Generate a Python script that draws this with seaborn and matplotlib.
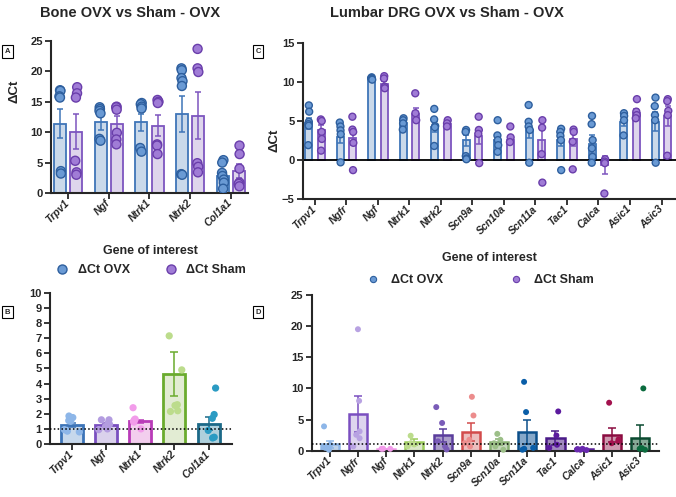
import numpy as np
import pandas as pd
import matplotlib.pyplot as plt
import seaborn as sns
from matplotlib.lines import Line2D

# ---- values ----
bone_genes = ["Trpv1", "Ngf", "Ntrk1", "Ntrk2", "Col1a1"]
groups = ["OVX", "Sham"]

bone_ovx_mean = [11.4, 11.7, 11.6, 13.0, 2.8]
bone_ovx_sem = [2.4, 1.4, 1.4, 3.0, 0.7]
bone_sham_mean = [10.1, 11.3, 11.1, 12.7, 3.6]
bone_sham_sem = [2.9, 1.3, 1.8, 3.9, 1.2]
bone_ovx_pts = [[16.9, 16.8, 15.9, 15.7, 3.6, 3.2],
                [14.1, 13.8, 13.5, 13.1, 8.9, 8.6],
                [14.8, 14.6, 14.2, 13.9, 7.4, 6.8],
                [20.5, 20.2, 18.9, 18.4, 17.6, 3.1, 3.0],
                [5.4, 5.0, 3.3, 2.8, 2.2, 1.7, 0.7]]
bone_sham_pts = [[17.4, 16.4, 15.7, 5.3, 3.4, 3.0],
                 [14.2, 14.1, 13.7, 9.9, 8.8, 8.0],
                 [15.3, 15.0, 14.8, 8.0, 7.8, 6.4],
                 [23.7, 20.5, 19.9, 4.9, 4.3, 3.4],
                 [7.8, 6.4, 4.0, 1.7, 1.5, 1.1]]

bone_fc_mean = [1.27, 1.25, 1.5, 4.62, 1.34]
bone_fc_sem = [0.15, 0.12, 0.12, 1.43, 0.42]
bone_fc_pts = [[1.85, 1.75, 1.55, 1.5, 0.95, 0.85, 0.8],
               [1.6, 1.6, 1.4, 1.3, 1.15, 1.0, 0.95],
               [2.4, 1.65, 1.6, 1.5, 1.45, 1.0],
               [7.15, 4.9, 2.6, 2.55, 2.2, 2.15],
               [3.7, 1.95, 1.7, 0.9, 0.45, 0.4]]

drg_genes = ["Trpv1", "Ngfr", "Ngf", "Ntrk1", "Ntrk2", "Scn9a", "Scn10a",
             "Scn11a", "Tac1", "Calca", "Asic1", "Asic3"]
drg_ovx_mean = [4.7, 3.0, 10.45, 4.7, 4.25, 2.5, 2.55, 3.9, 2.55, 2.05, 4.9, 4.9]
drg_ovx_sem = [0.7, 0.8, 0.1, 0.4, 0.7, 0.7, 0.55, 1.1, 0.7, 1.1, 0.6, 1.2]
drg_sham_mean = [3.85, 2.8, 9.75, 5.9, 4.6, 3.1, 2.55, 2.55, 2.65, -0.65, 6.0, 5.65]
drg_sham_sem = [0.6, 0.9, 0.4, 0.8, 0.2, 1.0, 0.4, 1.6, 0.9, 1.15, 0.5, 1.3]
drg_ovx_pts = [[7.0, 6.2, 4.9, 4.6, 4.4, 1.9],
               [4.8, 4.3, 3.8, 3.3, -0.3],
               [10.6, 10.5, 10.4, 10.3],
               [5.35, 5.1, 4.7, 3.9],
               [6.55, 5.2, 4.35, 4.2, 1.8],
               [3.85, 3.6, 0.5, 0.2, 0.1],
               [5.1, 3.15, 2.55, 1.9, 1.05],
               [7.05, 4.9, 4.3, 3.85, -0.35],
               [4.0, 3.6, 3.1, 2.55, -1.3],
               [5.65, 4.6, 2.55, 1.5, 0.4, -0.35],
               [6.0, 5.65, 5.1, 3.15],
               [8.0, 6.9, 5.75, 5.1, -0.35]]
drg_sham_pts = [[5.2, 5.0, 3.6, 2.7, 1.2],
                [5.55, 3.9, 3.6, 2.2, -1.3],
                [10.75, 10.45, 9.4, 9.2],
                [8.55, 6.0, 5.1],
                [5.1, 4.7, 4.3],
                [5.55, 3.85, 3.35, -0.4],
                [4.3, 2.9, 2.3],
                [5.1, 4.15, 0.75, -2.9],
                [3.9, 3.6, 2.35, -1.2],
                [0.1, -0.2, -0.4, -4.3],
                [7.8, 6.2, 5.75, 5.35],
                [7.8, 7.55, 6.3, 5.75, 0.55]]

drg_fc_mean = [1.0, 5.9, 0.3, 1.4, 2.45, 3.0, 1.4, 3.0, 2.05, 0.2, 2.5, 2.0]
drg_fc_sem = [0.6, 2.95, 0.02, 0.5, 1.1, 1.45, 0.45, 1.9, 1.15, 0.05, 1.1, 2.05]
drg_fc_pts = [[3.9, 0.95, 0.7, 0.45, 0.15],
              [19.5, 8.0, 3.1, 2.55, 2.0, 0.7],
              [0.32, 0.3, 0.3],
              [2.4, 1.2, 1.0, 0.7],
              [7.0, 4.45, 1.5, 0.7, 0.2],
              [8.65, 5.65, 1.75, 1.2, 0.7],
              [2.7, 1.75, 1.2, 0.7, 0.15],
              [11.05, 6.2, 0.45, 0.3, 0.15],
              [6.3, 2.45, 0.95, 0.45],
              [0.3, 0.2, 0.15, 0.1, 0.25],
              [7.7, 1.8, 1.5, 1.2],
              [10.0, 0.4, 0.3, 0.15]]

# ---- colours ----
grp_fill = {"OVX": "#c5d9ef", "Sham": "#ddd1f0"}
grp_edge = {"OVX": "#3f75b8", "Sham": "#7d55bf"}
grp_dot = {"OVX": "#6a9ad4", "Sham": "#a07cd6"}
grp_dot_edge = {"OVX": "#2e5f9e", "Sham": "#6a3eab"}

bone_fc_fill = ["#c0d8f2", "#d9cdf0", "#f9c8f3", "#e3f0cf", "#a8d3e3"]
bone_fc_edge = ["#3c74b8", "#7a4fc0", "#b93bb8", "#6aab2e", "#1c6988"]
bone_fc_dot = ["#8db6e8", "#b39ce0", "#f29cea", "#bcdc8c", "#2b9bc3"]

drg_fc_fill = ["#b7d2f0", "#dcd0f2", "#f9c8f3", "#dcedc4", "#a898d0", "#f4b6b6",
               "#c4dcb6", "#7ba8d4", "#a080c8", "#b9a0dc", "#d690ae", "#80b096"]
drg_fc_edge = ["#8db6e8", "#7a4fc0", "#f29cea", "#9ccc5c", "#5a3d9c", "#d24b4b",
               "#86ae70", "#0c4f8a", "#4a1a88", "#5a2098", "#8a0c40", "#0a4a30"]
drg_fc_dot = ["#8db6e8", "#b8a2e2", "#f29cea", "#bcdc8c", "#7a5cb8", "#ec8c8c",
              "#9cbf88", "#0a5ea8", "#5b1a9e", "#6a2ab0", "#a3124e", "#0b6b3e"]


def long_pts(genes, pts, group=None):
    rows = [(g, v) for g, vals in zip(genes, pts) for v in vals]
    df = pd.DataFrame(rows, columns=["gene", "value"])
    if group is not None:
        df["group"] = group
    return df


def style_axis(ax, genes, xlim, ylim, yticks):
    sns.despine(ax=ax)
    ax.set_xlim(*xlim)
    ax.set_ylim(*ylim)
    ax.set_yticks(yticks)
    ax.set_xlabel("")
    ax.set_ylabel("")
    for s in ["left", "bottom"]:
        ax.spines[s].set_linewidth(1.5)
    ax.tick_params(width=1.3, length=4, labelsize=8, pad=2)
    ax.set_xticks(range(len(genes)))
    ax.set_xticklabels(genes, rotation=45, ha="right", va="center",
                       rotation_mode="anchor", fontstyle="italic", fontsize=7.5)
    for lab in ax.get_yticklabels():
        lab.set_fontweight("bold")


def grouped_panel(ax, genes, means, sems, pts, gap, jitter, size):
    df = pd.DataFrame({"gene": genes * 2,
                       "group": ["OVX"] * len(genes) + ["Sham"] * len(genes),
                       "value": means[0] + means[1]})
    sns.barplot(data=df, x="gene", y="value", hue="group", order=genes,
                hue_order=groups, palette=grp_fill, errorbar=None, width=0.8,
                gap=gap, legend=False, ax=ax)
    bars = list(ax.containers)
    for cont, grp, m, e in zip(bars, groups, means, sems):
        for p in cont:
            p.set_edgecolor(grp_edge[grp])
            p.set_linewidth(1.3)
        xs = [p.get_x() + p.get_width() / 2 for p in cont]
        ax.errorbar(xs, m, yerr=e, fmt="none", ecolor=grp_edge[grp],
                    elinewidth=1.1, capsize=2.5, capthick=1.1, zorder=2)
    for grp, gp in zip(groups, pts):
        sns.stripplot(data=long_pts(genes, gp, grp), x="gene", y="value",
                      hue="group", order=genes, hue_order=groups, dodge=True,
                      jitter=jitter, palette=grp_dot, size=size, linewidth=1,
                      edgecolor=grp_dot_edge[grp], legend=False, ax=ax, zorder=3)


def fc_panel(ax, genes, means, sems, pts, fills, edges, dots, jitter, size, lw):
    df = pd.DataFrame({"gene": genes, "value": means})
    sns.barplot(data=df, x="gene", y="value", hue="gene", order=genes,
                palette=dict(zip(genes, fills)), errorbar=None, width=0.64,
                legend=False, ax=ax)
    bars = list(ax.containers)
    sns.stripplot(data=long_pts(genes, pts), x="gene", y="value", hue="gene",
                  order=genes, palette=dict(zip(genes, dots)), jitter=jitter,
                  size=size, linewidth=0, legend=False, ax=ax, zorder=3,
                  clip_on=False)
    for cont, edge, m, e in zip(bars, edges, means, sems):
        for p in cont:
            p.set_edgecolor(edge)
            p.set_linewidth(lw)
            ax.errorbar(p.get_x() + p.get_width() / 2, m, yerr=e, fmt="none",
                        ecolor=edge, elinewidth=1.1, capsize=3, capthick=1.1,
                        zorder=2)
    ax.axhline(1, ls=(0, (1, 1.5)), color="black", lw=1.1, zorder=4)


sns.set_style("ticks")
plt.rcParams["font.family"] = ["Liberation Sans", "DejaVu Sans"]
plt.rcParams["font.weight"] = "bold"
np.random.seed(3)

fig = plt.figure(figsize=(6.76, 4.97), dpi=100)
W, H = 676, 497


def fx(x):
    return x / W


def fy(y):
    return 1 - y / H


axA = fig.add_axes([0.0754, 0.6117, 0.2914, 0.3058])
axB = fig.add_axes([0.074, 0.1066, 0.269, 0.3044])
axC = fig.add_axes([0.4482, 0.5996, 0.5518, 0.3139])
axD = fig.add_axes([0.4611, 0.0932, 0.5138, 0.3133])

# A: bone delta Ct
grouped_panel(axA, bone_genes, [bone_ovx_mean, bone_sham_mean],
              [bone_ovx_sem, bone_sham_sem], [bone_ovx_pts, bone_sham_pts],
              gap=0.26, jitter=0.06, size=6.5)
style_axis(axA, bone_genes, (-0.42, 4.42), (0, 25), range(0, 26, 5))

# B: bone fold change
fc_panel(axB, bone_genes, bone_fc_mean, bone_fc_sem, bone_fc_pts,
         bone_fc_fill, bone_fc_edge, bone_fc_dot, jitter=0.24, size=5.2, lw=2)
style_axis(axB, bone_genes, (-0.63, 4.68), (0, 10), range(0, 11))

# C: lumbar DRG delta Ct
grouped_panel(axC, drg_genes, [drg_ovx_mean, drg_sham_mean],
              [drg_ovx_sem, drg_sham_sem], [drg_ovx_pts, drg_sham_pts],
              gap=0.42, jitter=0.04, size=5)
axC.axhline(0, color="black", lw=1.3, zorder=1.5)
style_axis(axC, drg_genes, (-0.38, 11.46), (-5, 15), range(-5, 16, 5))

# D: lumbar DRG fold change
fc_panel(axD, drg_genes, drg_fc_mean, drg_fc_sem, drg_fc_pts,
         drg_fc_fill, drg_fc_edge, drg_fc_dot, jitter=0.24, size=4.3, lw=1.8)
style_axis(axD, drg_genes, (-0.64, 11.67), (0, 25), range(0, 26, 5))

# titles and axis texts
fig.text(fx(130), fy(13), "Bone OVX vs Sham - OVX", ha="center", va="center",
         fontsize=10.5)
fig.text(fx(447), fy(13), "Lumbar DRG OVX vs Sham - OVX", ha="center",
         va="center", fontsize=10.5)
fig.text(fx(150), fy(251), "Gene of interest", ha="center", va="center", fontsize=9)
fig.text(fx(489), fy(258), "Gene of interest", ha="center", va="center", fontsize=9)
fig.text(fx(14), fy(91), "ΔCt", rotation=90, ha="center", va="center", fontsize=9.5)
fig.text(fx(274), fy(140), "ΔCt", rotation=90, ha="center", va="center", fontsize=9.5)

for lab, (x, y) in zip("ABCD", [(7.3, 51.5), (7.3, 312), (258, 51.5), (258, 312)]):
    fig.text(fx(x), fy(y), lab, ha="center", va="center", fontsize=5.5,
             bbox=dict(boxstyle="square,pad=0.35", fc="white", ec="black", lw=0.8))

# legends
big = [Line2D([], [], ls="", marker="o", ms=6.5, mfc=grp_dot[g],
              mec=grp_dot_edge[g], mew=1) for g in groups]
small = [Line2D([], [], ls="", marker="o", ms=4.5, mfc=grp_dot[g],
                mec=grp_dot_edge[g], mew=0.8) for g in groups]
leg_labels = ["ΔCt OVX", "ΔCt Sham"]
fig.legend(big, leg_labels, loc="center left", bbox_to_anchor=(fx(56), fy(270)),
           ncol=2, frameon=False, fontsize=9, handlelength=1,
           handletextpad=0.75, columnspacing=2.75, borderpad=0, borderaxespad=0)
fig.legend(small, leg_labels, loc="center left", bbox_to_anchor=(fx(367), fy(280)),
           ncol=2, frameon=False, fontsize=9, handlelength=1,
           handletextpad=0.95, columnspacing=5.3, borderpad=0, borderaxespad=0)

fig.savefig("out.png", dpi=100)
